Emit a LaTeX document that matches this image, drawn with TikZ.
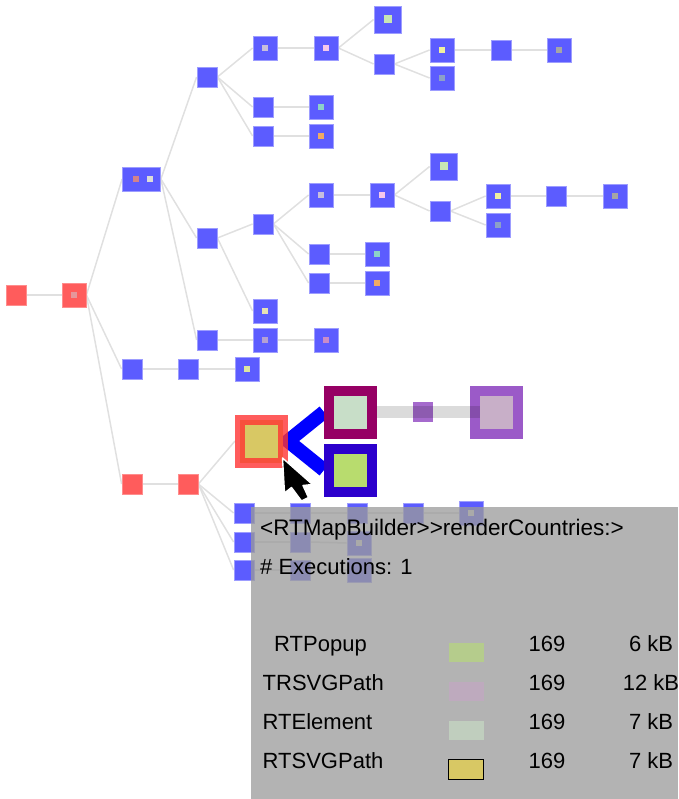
\documentclass[tikz,border=0pt]{standalone}
\usepackage{fontspec}
\setmainfont{Liberation Sans}
\usetikzlibrary{positioning, backgrounds, calc}

\definecolor{nodeblue}{RGB}{92,92,255}
\definecolor{nodered}{RGB}{255,92,92}
\definecolor{edgegray}{RGB}{224,224,224}
\definecolor{lav}{RGB}{200,190,220}
\definecolor{pink}{RGB}{245,200,235}
\definecolor{mint}{RGB}{200,230,180}
\definecolor{lemon}{RGB}{240,240,160}
\definecolor{slate}{RGB}{140,160,200}
\definecolor{ash}{RGB}{165,165,165}
\definecolor{aqua}{RGB}{140,210,200}
\definecolor{peach}{RGB}{240,170,100}
\definecolor{rose}{RGB}{210,130,140}
\definecolor{pearl}{RGB}{220,220,215}
\definecolor{blush}{RGB}{230,150,155}
\definecolor{straw}{RGB}{230,225,180}
\definecolor{lilac}{RGB}{180,160,210}
\definecolor{mauve}{RGB}{200,140,200}
\definecolor{lime}{RGB}{220,230,160}
\definecolor{svgred}{RGB}{255,51,51}
\definecolor{svgyellow}{RGB}{216,200,100}
\definecolor{elemmagenta}{RGB}{150,0,100}
\definecolor{elemgreen}{RGB}{200,222,200}
\definecolor{popupblue}{RGB}{44,0,204}
\definecolor{popupgreen}{RGB}{184,220,110}
\definecolor{pathpurple}{RGB}{155,90,200}
\definecolor{pathpink}{RGB}{200,175,200}
\definecolor{tipgray}{RGB}{155,155,155}
\definecolor{keypopup}{RGB}{181,204,140}
\definecolor{keypath}{RGB}{190,170,190}
\definecolor{keyelem}{RGB}{192,206,190}

\tikzstyle{call} = [rectangle, draw=nodeblue!60!white, line width=0.8pt, fill=nodeblue, minimum size=20pt, inner sep=0pt]
\tikzstyle{callbig} = [call, minimum size=24pt]
\tikzstyle{callhuge} = [call, minimum size=27pt]
\tikzstyle{callred} = [call, draw=nodered!70!white, fill=nodered]
\tikzstyle{obj} = [rectangle, inner sep=0pt, minimum size=6pt]
\tikzstyle{figure} = [rectangle, inner sep=0pt, minimum size=43pt, line width=10pt]
\tikzstyle{link} = [draw=edgegray, line width=1.5pt]
\tikzstyle{info} = [anchor=base west, font=\fontsize{22}{26}\selectfont, inner sep=0pt]
\tikzstyle{swatch} = [rectangle, inner sep=0pt, minimum width=35pt, minimum height=19.5pt, line width=0.8pt]

\begin{document}
\begin{tikzpicture}[x=1pt, y=-1pt]
  \useasboundingbox (0,0) rectangle (678,799);

  % Root and first level
  \node [callred] (r0) at (16,295) {};
  \node [callred, minimum size=24pt] (r1) at (74,295) {};
  \node [call, minimum width=38pt, minimum height=24pt] (w) at (141.5,179) {};
  \node [call] (m0) at (132,369) {};
  \node [callred] (l0) at (132,484) {};

  % Upper branch
  \node [call] (a1) at (207,77) {};
  \node [callbig] (a2) at (265,48) {};
  \node [callbig] (a3) at (326,48) {};
  \node [callhuge] (a4) at (387.5,19.5) {};
  \node [call] (a5) at (384,64) {};
  \node [callbig] (a6) at (442,50) {};
  \node [callbig] (a7) at (442,78) {};
  \node [call] (a8) at (501,50) {};
  \node [callbig] (a9) at (559,50) {};
  \node [call] (b1) at (263,107) {};
  \node [callbig] (b2) at (321,107) {};
  \node [call] (c1) at (263,136) {};
  \node [callbig] (c2) at (321,136) {};

  % Middle branch
  \node [call] (d0) at (207,238) {};
  \node [call] (d1) at (263,224) {};
  \node [callbig] (d2) at (321,195) {};
  \node [callbig] (d3) at (382,195) {};
  \node [callhuge] (d4) at (443.5,166.5) {};
  \node [call] (d5) at (440,211) {};
  \node [callbig] (d6) at (498,196) {};
  \node [callbig] (d7) at (498,225) {};
  \node [call] (d8) at (556,196) {};
  \node [callbig] (d9) at (615,196) {};
  \node [call] (e1) at (319,254) {};
  \node [callbig] (e2) at (377,254) {};
  \node [call] (f1) at (319,283) {};
  \node [callbig] (f2) at (377,283) {};
  \node [callbig] (g1) at (265,311) {};
  \node [call] (h0) at (207,340) {};
  \node [callbig] (h1) at (265,340) {};
  \node [callbig] (h2) at (326,340) {};
  \node [call] (m1) at (188,369) {};
  \node [callbig] (m2) at (247,369) {};

  % Lower branch
  \node [callred] (l1) at (188,484) {};
  \node [call] (s1) at (244,513) {};
  \node [call] (s2) at (300.5,513) {};
  \node [call] (s3) at (357,513) {};
  \node [call] (s4) at (413,513) {};
  \node [callbig] (s5) at (471,513) {};
  \node [call] (t1) at (244,542) {};
  \node [call] (t2) at (300.5,542) {};
  \node [callbig] (t3) at (359,543) {};
  \node [call] (u1) at (244,570) {};
  \node [call] (u2) at (300.5,570) {};
  \node [callbig] (u3) at (359,570) {};

  % Selected method and its objects
  \node [figure, draw=svgred, draw opacity=0.8, fill=svgyellow] (rsvg) at (261.5,441) {};
  \node [figure, draw=elemmagenta, fill=elemgreen] (relem) at (350.5,412) {};
  \node [figure, draw=popupblue, fill=popupgreen] (popup) at (350.5,470) {};
  \node [call, draw=none, fill=pathpurple, fill opacity=0.9] (hop) at (423,412) {};
  \node [figure, draw=pathpurple, fill=pathpink] (trsvg) at (496,412) {};
  \path [draw=black, draw opacity=0.14, line width=12pt, shorten >=-10pt] (relem.east) -- (trsvg.west);

  % Objects held by each call
  \foreach \n/\c in {a2/lav, a3/pink, a6/lemon, a7/slate, a9/ash, b2/aqua, c2/peach,
      d2/lav, d3/pink, d6/lemon, d7/slate, d9/ash, e2/aqua, f2/peach, g1/straw,
      h1/lilac, h2/mauve, m2/lime, r1/blush, s5/pearl, t3/pearl}
    \node [obj, fill=\c] at (\n) {};
  \foreach \n in {a4, d4}
    \node [obj, fill=mint, minimum size=8pt] at (\n) {};
  \node [obj, fill=rose] at ($(w)+(-5.5,0)$) {};
  \node [obj, fill=pearl] at ($(w)+(8.5,0)$) {};

  % Edges
  \begin{scope}[on background layer]
    \foreach \a/\b in {r0/r1, r1/w, r1/m0, r1/l0, w/a1, w/d0, w/h0,
        a1/a2, a1/b1, a1/c1, a2/a3, a3/a4, a3/a5, a5/a6, a5/a7, a6/a8, a8/a9,
        b1/b2, c1/c2, d0/d1, d0/g1, d1/d2, d1/e1, d1/f1, d2/d3, d3/d4, d3/d5,
        d5/d6, d5/d7, d6/d8, d8/d9, e1/e2, f1/f2, h0/h1, h1/h2, m0/m1, m1/m2,
        l0/l1, l1/rsvg, l1/s1, l1/t1, l1/u1, s1/s2, s2/s3, s3/s4, s4/s5,
        t1/t2, t2/t3, u1/u2, u2/u3}
      \path [link] (\a.east) -- (\b.west);
    \path [draw=blue, line width=14pt, line join=miter] (relem.west) -- (rsvg.east) -- (popup.west);
  \end{scope}

  % Mouse pointer
  \draw [fill=black, draw=white, line width=1.4pt, line join=round]
    (282.5,458) -- (284.5,493) -- (291.5,487.5) -- (301.5,501) -- (308.5,497.5)
    -- (303,485.5) -- (312.5,484.5) -- cycle;

  % Popup
  \node [rectangle, anchor=north west, inner sep=0pt, minimum width=427pt, minimum height=292pt,
    fill=tipgray, fill opacity=0.76] (tip) at (251,507) {};
  \node [info, font=\fontsize{22.5}{26}\selectfont] (title) at (260,535) {<RTMapBuilder>{}>renderCountries:>};
  \node [info] (runs) at (260,574) {\# Executions: 1};
  \foreach \cls/\col/\bd/\kb/\xs [count=\i] in {RTPopup/keypopup/none/6/274,
      TRSVGPath/keypath/none/12/262.5, RTElement/keyelem/none/7/262.5,
      RTSVGPath/svgyellow/black/7/262.5} {
    \node [info] (cls\i) at (\xs,{651.7+38.8*(\i-1)}) {\cls};
    \node [swatch, fill=\col, draw=\bd] (key\i) at (466,{652.5+38.9*(\i-1)}) {};
    \node [info, anchor=base] (count\i) at (547,{651.7+38.8*(\i-1)}) {169};
    \node [info, anchor=base] (size\i) at (651,{651.7+38.8*(\i-1)}) {\kb\ kB};
  }
\end{tikzpicture}
\end{document}
